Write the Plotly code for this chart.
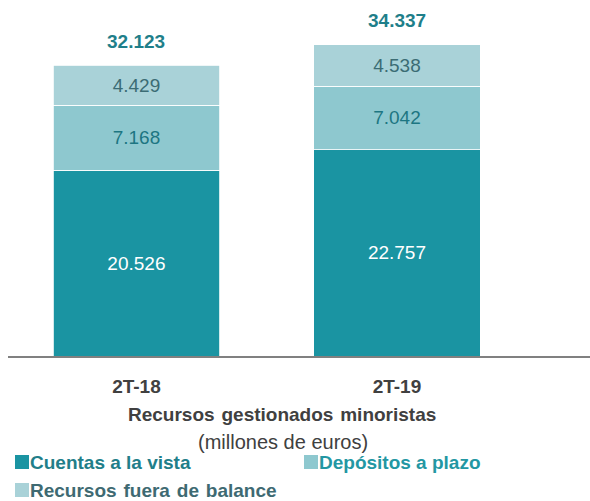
import plotly.graph_objects as go

categories = ["2T-18", "2T-19"]
cuentas_vista = [20526, 22757]
depositos_plazo = [7168, 7042]
fuera_balance = [4429, 4538]
totals = [32123, 34337]

series_names = ["Cuentas a la vista", "Depósitos a plazo", "Recursos fuera de balance"]
series_colors = ["#1A94A2", "#8EC8CF", "#A9D2D8"]
text_colors = ["#FFFFFF", "#1D7682", "#3B6C74"]

FONT = "Liberation Sans, Arial, sans-serif"
W, H = 590, 501
ML, MR, MT, MB = 8, 0, 0, 145
PW, PH = W - ML - MR, H - MT - MB
SP = "\u200a "  # slightly widened word gap


def px2x(px):
    return (px - ML) / PW


def py2y(py):
    return (MT + PH - py) / PH


fig = go.Figure()
for vals, name, col, tcol in zip([cuentas_vista, depositos_plazo, fuera_balance],
                                 series_names, series_colors, text_colors):
    fig.add_trace(go.Bar(
        x=categories, y=vals, name=name,
        marker=dict(color=col, line=dict(color="white", width=0.8)),
        width=0.64,
        texttemplate="%{y:,}", textposition="inside", insidetextanchor="middle",
        textfont=dict(family=FONT, size=19, color=tcol),
        showlegend=False, hoverinfo="skip",
    ))

annotations = []
for c, t in zip(categories, totals):
    annotations.append(dict(
        x=c, y=t, xref="x", yref="y", text="<b>" + f"{t:,}".replace(",", ".") + "</b>",
        showarrow=False, yanchor="middle", yshift=24,
        font=dict(family=FONT, size=19, color="#1F7F8A"),
    ))

annotations.append(dict(
    x=px2x(282), y=py2y(414), xref="paper", yref="paper",
    text="<b>" + SP.join(["Recursos", "gestionados", "minoristas"]) + "</b>", showarrow=False,
    xanchor="center", yanchor="middle", font=dict(family=FONT, size=19, color="#404040"),
))
annotations.append(dict(
    x=px2x(283), y=py2y(442), xref="paper", yref="paper",
    text="(millones de euros)", showarrow=False,
    xanchor="center", yanchor="middle", font=dict(family=FONT, size=20, color="#404040"),
))

legend_items = [
    (series_names[0], series_colors[0], "#217E89", 15, 462),
    (series_names[1], series_colors[1], "#2397A3", 304, 462),
    (SP.join(series_names[2].split(" ")), series_colors[2], "#3E6A72", 15, 490),
]
shapes = []
for label, col, tcol, lx, ly in legend_items:
    shapes.append(dict(type="rect", xref="paper", yref="paper",
                       x0=px2x(lx), x1=px2x(lx + 14), y0=py2y(ly - 7), y1=py2y(ly + 7),
                       fillcolor=col, line=dict(width=0)))
    annotations.append(dict(
        x=px2x(lx + 13), y=py2y(ly), xref="paper", yref="paper",
        text="<b>" + label + "</b>", showarrow=False, xanchor="left", yanchor="middle",
        font=dict(family=FONT, size=19, color=tcol),
    ))

fig.update_layout(
    width=W, height=H,
    margin=dict(l=ML, r=MR, t=MT, b=MB),
    barmode="stack",
    separators=",.",
    plot_bgcolor="white", paper_bgcolor="white",
    showlegend=False,
    annotations=annotations, shapes=shapes,
    xaxis=dict(
        range=[-0.493, 1.741], showline=True, linecolor="#808080", linewidth=1.5,
        ticks="outside", ticklen=12, tickcolor="rgba(0,0,0,0)",
        tickvals=categories, ticktext=["<b>" + c + "</b>" for c in categories],
        tickfont=dict(family=FONT, size=19, color="#404040"),
        showgrid=False, zeroline=False,
    ),
    yaxis=dict(range=[0, 39302], visible=False, showgrid=False, zeroline=False),
)

fig.write_html(
    "out.html",
    config={"displayModeBar": False},
    post_script="document.body.style.margin='0';document.body.style.overflow='hidden';",
)
